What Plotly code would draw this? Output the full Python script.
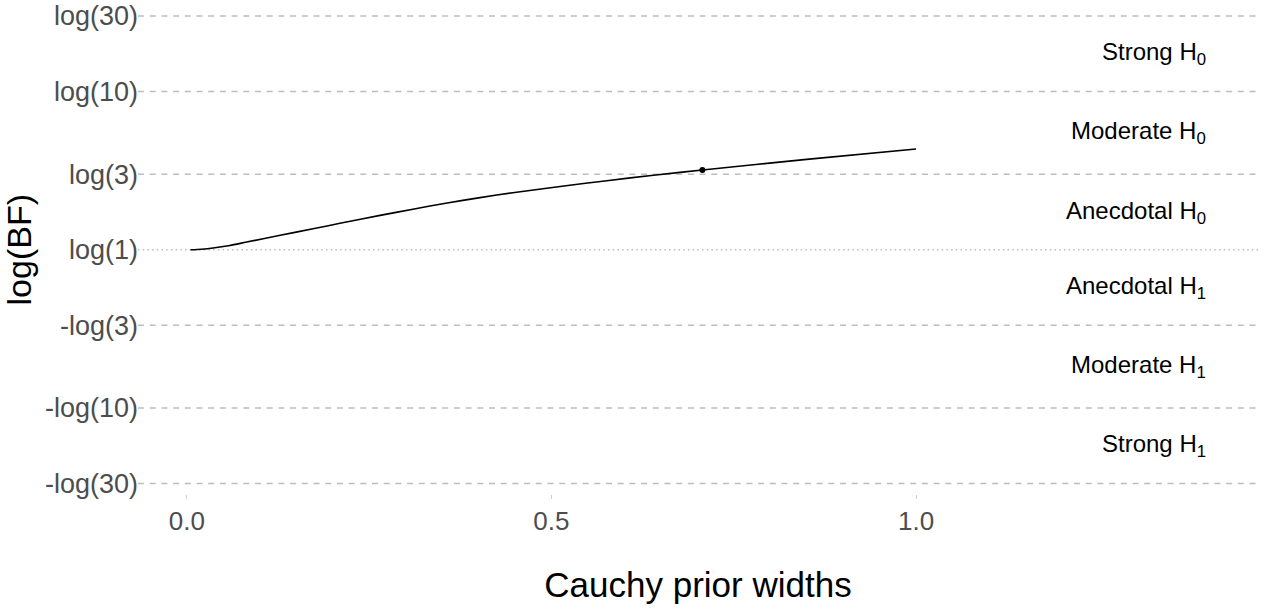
import math
import plotly.graph_objects as go

# ---- data ----
prior_widths = [0.005, 0.02, 0.036, 0.059, 0.082, 0.128, 0.173, 0.21, 0.265, 0.31, 0.357,
                0.4, 0.447, 0.512, 0.576, 0.64, 0.707, 0.85, 1.0]
log_bf = [0.0, 0.008, 0.025, 0.062, 0.112, 0.21, 0.305, 0.385, 0.5, 0.59, 0.68,
          0.755, 0.83, 0.92, 1.005, 1.085, 1.16, 1.315, 1.465]

user_width = [0.707]
user_log_bf = [1.16]

bf_levels = [1/30, 1/10, 1/3, 1, 3, 10, 30]
tick_labels = ["-log(30)", "-log(10)", "-log(3)", "log(1)", "log(3)", "log(10)", "log(30)"]
region_labels = ["Strong H<sub>1</sub>", "Moderate H<sub>1</sub>", "Anecdotal H<sub>1</sub>",
                 "Anecdotal H<sub>0</sub>", "Moderate H<sub>0</sub>", "Strong H<sub>0</sub>"]

x_ticks = [0.0, 0.5, 1.0]
x_tick_labels = ["0.0", "0.5", "1.0"]

tick_vals = [math.log(b) for b in bf_levels]

FONT = "Liberation Sans, Arial, sans-serif"

fig = go.Figure()

fig.add_trace(go.Scatter(x=prior_widths, y=log_bf, mode="lines",
                         line=dict(color="black", width=1.6, shape="spline", smoothing=0.8),
                         hoverinfo="skip", showlegend=False))
fig.add_trace(go.Scatter(x=user_width, y=user_log_bf, mode="markers",
                         marker=dict(color="black", size=6),
                         showlegend=False))

shapes = []
for v in tick_vals:
    shapes.append(dict(type="line", xref="paper", x0=0, x1=1, yref="y", y0=v, y1=v,
                       line=dict(color="#BDBDBD", width=1.3,
                                 dash="1.5px,3.2px" if v == 0 else "6px,5.7px"),
                       layer="below"))

annotations = []
for i, lab in enumerate(region_labels):
    ymid = (tick_vals[i] + tick_vals[i + 1]) / 2
    annotations.append(dict(text=lab, xref="paper", x=0.955, xanchor="right",
                            yref="y", y=ymid, yanchor="middle", showarrow=False,
                            font=dict(family=FONT, size=24, color="black")))

fig.update_layout(
    width=1272, height=609,
    paper_bgcolor="white", plot_bgcolor="white",
    margin=dict(l=138, r=14, t=13.5, b=115, autoexpand=False),
    shapes=shapes, annotations=annotations,
    font=dict(family=FONT),
    xaxis=dict(range=[-0.067, 1.469], tickvals=x_ticks, ticktext=x_tick_labels,
               showgrid=False, zeroline=False, showline=False, automargin=False,
               ticks="outside", ticklen=4, tickcolor="#D0D0D0", tickwidth=1,
               tickfont=dict(family=FONT, size=26, color="#4D4D4D"),
               anchor="free", position=0,
               title=dict(text="Cauchy prior widths", font=dict(family=FONT, size=35, color="black"),
                          standoff=37)),
    yaxis=dict(range=[-3.43, 3.43], tickvals=tick_vals, ticktext=tick_labels,
               domain=[0.0177, 1], automargin=False,
               showgrid=False, zeroline=False, showline=False,
               ticks="", ticklabelstandoff=-1,
               tickfont=dict(family=FONT, size=27, color="#4D4D4D"),
               title=dict(text="log(BF)", font=dict(family=FONT, size=34, color="black"),
                          standoff=8)),
)

fig.write_html("out.html", config={"displayModeBar": False},
               post_script="document.body.style.margin='0';document.body.style.padding='0';")
